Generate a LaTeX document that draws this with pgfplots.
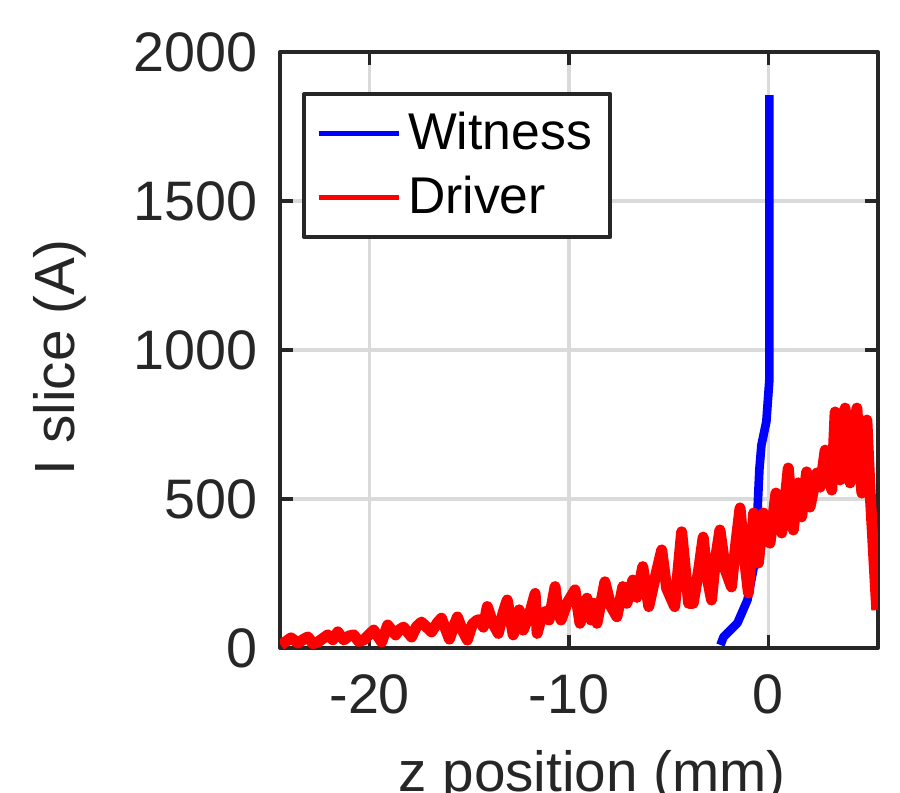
\documentclass[border=0pt]{standalone}
\usepackage{fontspec}
\setmainfont{Liberation Sans}
\usepackage{pgfplots}
\pgfplotsset{compat=1.18}

\definecolor{axgray}{RGB}{38,38,38}
\definecolor{gridgray}{RGB}{218,218,218}

\begin{document}
\begin{tikzpicture}
\path[use as bounding box] (-84pt,-43.5pt) rectangle (186pt,194.4pt);
\begin{axis}[
    at={(0,0)}, anchor=south west,
    scale only axis,
    width=179.4pt, height=178.8pt,
    xmin=-24.5, xmax=5.5,
    ymin=0, ymax=2000,
    xtick={-20,-10,0},
    ytick={0,500,1000,1500,2000},
    grid=major,
    major grid style={gridgray, line width=1pt},
    axis line style={axgray, line width=1.2pt},
    tick style={axgray, line width=1pt},
    tick align=inside,
    major tick length=4pt,
    /pgf/number format/assume math mode=true,
    /pgf/number format/1000 sep={},
    tick label style={font=\fontsize{16.7}{20}\selectfont, text=black!85},
    xticklabel style={yshift=-4.5pt},
    yticklabel style={xshift=-3.3pt},
    label style={font=\fontsize{17}{20}\selectfont, text=black!85},
    xlabel={z position (mm)},
    ylabel={I slice (A)},
    xlabel style={at={(axis description cs:0.522,-0.240)}, anchor=base},
    ylabel style={at={(axis description cs:-0.368,0.488)}, anchor=center},
    legend style={at={(0.037,0.933)}, anchor=north west,
        draw=axgray, line width=1.2pt, fill=white,
        font=\fontsize{15.5}{22}\selectfont, text=black,
        inner sep=3.5pt, row sep=2.5pt},
    legend cell align=left,
    legend image code/.code={\draw[#1, line width=1.7pt] (0pt,0pt) -- (24pt,0pt);},
    line join=round,
]
\addplot[blue, line width=2.6pt] coordinates {
    (-2.4,10) (-2.25,37) (-1.55,84) (-1.05,161) (-0.85,230) (-0.65,300)
    (-0.55,453) (-0.45,600) (-0.35,680) (-0.1,760) (0.05,900) (0.05,1855)
};
\addlegendentry{Witness}

\addplot[red, line width=3.3pt] coordinates {
    (-24.46,10) (-24.2,22) (-23.95,34) (-23.6,17) (-23.3,30) (-23.1,37)
    (-22.85,15) (-22.6,20) (-22.1,44) (-21.85,28) (-21.6,54) (-21.3,27)
    (-21.05,40) (-20.8,44) (-20.55,22) (-20.3,27) (-19.8,60) (-19.4,20)
    (-19.1,77) (-18.7,44) (-18.5,62) (-18.3,70) (-17.9,37) (-17.65,72)
    (-17.4,87) (-16.9,54) (-16.6,85) (-16.4,100) (-16.0,30) (-15.8,70)
    (-15.6,104) (-15.35,60) (-15.1,27) (-14.85,80) (-14.6,94)
    (-14.47,94) (-14.3,70) (-14.1,139) (-13.8,80) (-13.55,49) (-13.3,120)
    (-13.1,161) (-12.8,44) (-12.5,128) (-12.3,60) (-12.0,110) (-11.7,183)
    (-11.6,49) (-11.4,100) (-11.2,122) (-11.0,94) (-10.7,206) (-10.55,120)
    (-10.4,94) (-10.1,150) (-9.7,195) (-9.45,83) (-9.1,167) (-8.9,94)
    (-8.75,150) (-8.6,83) (-8.2,222) (-7.9,140) (-7.6,105) (-7.3,206)
    (-7.1,150) (-6.8,228) (-6.6,170) (-6.3,273) (-6.0,139) (-5.7,230)
    (-5.35,329) (-5.1,200) (-4.7,139) (-4.35,390) (-4.0,150)
    (-3.77,150) (-3.5,260) (-3.27,372) (-3.05,230) (-2.85,161) (-2.65,300)
    (-2.43,396) (-2.15,260) (-1.85,205) (-1.65,340) (-1.42,470) (-1.2,300)
    (-1.0,185) (-0.74,453) (-0.5,285) (-0.25,453) (0.08,352) (0.38,520)
    (0.67,386) (1.0,604) (1.25,396) (1.5,554) (1.67,440) (1.92,591)
    (2.09,473) (2.43,587) (2.6,540) (2.85,664) (3.18,530) (3.35,792)
    (3.6,564) (3.85,805) (4.1,554) (4.44,805) (4.69,520) (4.94,765)
    (5.1,530) (5.44,127)
};
\addlegendentry{Driver}
\end{axis}
\end{tikzpicture}
\end{document}
